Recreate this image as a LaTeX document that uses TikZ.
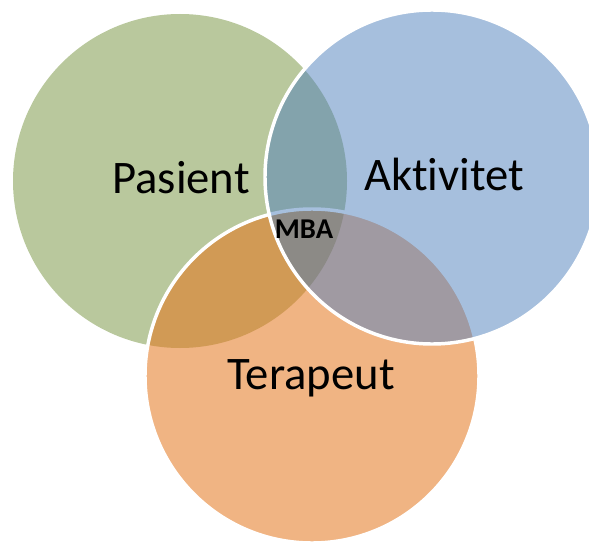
\documentclass[tikz,border=0pt]{standalone}
\usepackage{fontspec}
\setmainfont{Carlito}[Ligatures=NoCommon]
\definecolor{cG}{HTML}{B9C89D}
\definecolor{cB}{HTML}{A6BFDD}
\definecolor{cO}{HTML}{F0B483}
\definecolor{cGB}{HTML}{83A3AC}
\definecolor{cGO}{HTML}{D19A55}
\definecolor{cBO}{HTML}{A09AA2}
\definecolor{cGBO}{HTML}{8C8A86}
\begin{document}
\begin{tikzpicture}[x=0.75pt,y=-0.75pt,
  lbl/.style={anchor=base,inner sep=0pt,font=\fontsize{35}{42}\selectfont},
  mid/.style={anchor=base,inner sep=0pt,font=\fontsize{21.5}{26}\selectfont\bfseries},
  rim/.style={draw=white,line width=2.6pt}]
\useasboundingbox (0,0) rectangle (589,542);
\def\rr{125.25pt}
\coordinate (g) at (180,181);
\coordinate (b) at (432,177);
\coordinate (o) at (312,376);
% base fills
\fill[cG] (g) circle[radius=\rr];
\fill[cB] (b) circle[radius=\rr];
\fill[cO] (o) circle[radius=\rr];
% overlaps
\begin{scope}
  \clip (g) circle[radius=\rr];
  \fill[cGB] (b) circle[radius=\rr];
\end{scope}
\begin{scope}
  \clip (g) circle[radius=\rr];
  \fill[cGO] (o) circle[radius=\rr];
\end{scope}
\begin{scope}
  \clip (b) circle[radius=\rr];
  \fill[cBO] (o) circle[radius=\rr];
\end{scope}
\begin{scope}
  \clip (g) circle[radius=\rr];
  \clip (b) circle[radius=\rr];
  \fill[cGBO] (o) circle[radius=\rr];
\end{scope}
% orange rim: white outside blue, blue-tinted inside blue
\begin{scope}[even odd rule]
  \clip (-50,-50) rectangle (700,700) (b) circle[radius=\rr];
  \draw[rim] (o) circle[radius=\rr];
\end{scope}
\begin{scope}
  \clip (b) circle[radius=\rr];
  \draw[cB,line width=2.6pt] (o) circle[radius=\rr];
\end{scope}
% blue rim
\draw[rim] (b) circle[radius=\rr];
% labels
\node[lbl] (pasient) at (181,193) {Pasient};
\node[lbl] (aktivitet) at (444,190) {Aktivitet};
\node[lbl] (terapeut) at (311,389) {Terapeut};
\node[mid] (mba) at (304,238.5) {MBA};
\end{tikzpicture}
\end{document}
